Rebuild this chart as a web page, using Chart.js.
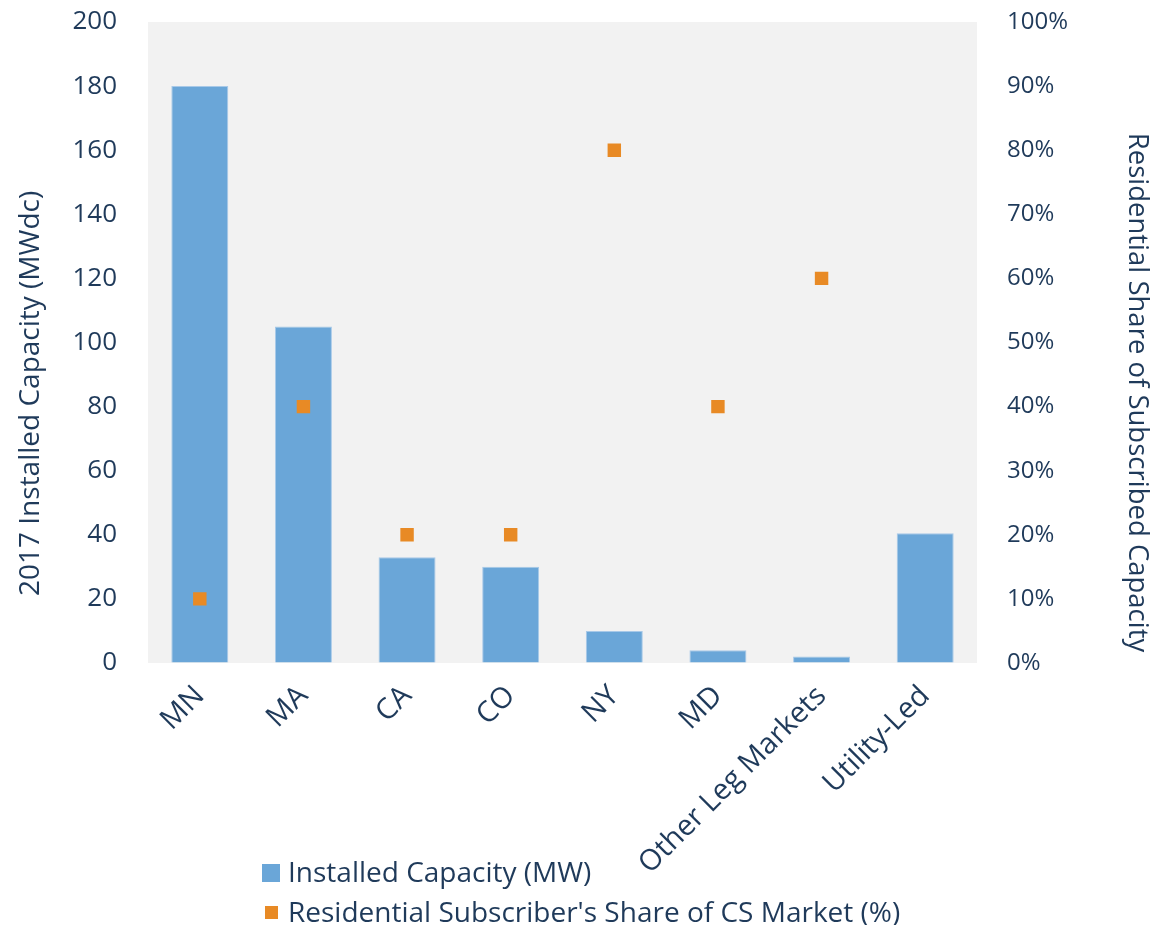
<!DOCTYPE html>
<html>
<head>
<meta charset="utf-8">
<script src="https://cdn.jsdelivr.net/npm/chart.js@4"></script>
<style>
  body { margin: 0; background: #fff; font-family: "Open Sans", sans-serif; }
  #wrap { position: relative; width: 1155px; height: 925px; }
  #legend { position: absolute; left: 262px; top: 851px; color: #1f3a5a; font-size: 28px; line-height: 40px; }
  #legend .sw { display: inline-block; vertical-align: middle; margin-right: 8px; position: relative; top: -2px; }
</style>
</head>
<body>
<div id="wrap">
  <canvas id="chart" width="1155" height="925"></canvas>
  <div id="legend">
    <div><span class="sw" style="width:18px;height:18px;background:#6aa6d8;"></span>Installed Capacity (MW)</div>
    <div><span class="sw" style="width:13px;height:13px;background:#e88a25;margin-left:3px;margin-right:10px;"></span>Residential Subscriber's Share of CS Market (%)</div>
  </div>
</div>
<script>
// categories and series
var markets = ['MN', 'MA', 'CA', 'CO', 'NY', 'MD', 'Other Leg Markets', 'Utility-Led'];
var capacityMW = [180, 105, 33, 30, 10, 4, 2, 40.5];
var residentialShare = [10, 40, 20, 20, 80, 40, 60, null];

var textColor = '#1f3a5a';

// grey plot area background
var plotBg = {
    id: 'plotBg',
    beforeDraw: function(chart) {
        var a = chart.chartArea;
        var ctx = chart.ctx;
        ctx.save();
        ctx.fillStyle = '#f2f2f2';
        ctx.fillRect(a.left, a.top, a.right - a.left, a.bottom - a.top);
        ctx.restore();
    }
};

var ctx = document.getElementById('chart').getContext('2d');
var chart = new Chart(ctx, {
    type: 'bar',
    data: {
        labels: markets,
        datasets: [{
            type: 'scatter',
            label: "Residential Subscriber's Share of CS Market (%)",
            data: residentialShare,
            yAxisID: 'y2',
            backgroundColor: '#e88a25',
            borderWidth: 0,
            pointStyle: 'rect',
            pointRadius: 9.5,
            pointHoverRadius: 9.5,
            showLine: false
        }, {
            label: 'Installed Capacity (MW)',
            data: capacityMW,
            yAxisID: 'y',
            backgroundColor: '#6aa6d8',
            borderColor: '#a8c9e8',
            borderWidth: 1,
            barPercentage: 0.55,
            categoryPercentage: 1
        }]
    },
    options: {
        responsive: false,
        animation: false,
        layout: { padding: { top: 22, bottom: 0, left: 0, right: 0 } },
        plugins: {
            legend: { display: false },
            tooltip: { enabled: false }
        },
        scales: {
            x: {
                type: 'category',
                grid: { display: false },
                border: { display: false },
                ticks: {
                    color: textColor,
                    font: { family: 'Open Sans', size: 29 },
                    minRotation: 45,
                    maxRotation: 45,
                    padding: 8
                },
                afterFit: function(s) { s.height = 262; }
            },
            y: {
                position: 'left',
                min: 0,
                max: 200,
                // invisible tick marks keep the labels away from the plot
                grid: { display: true, drawOnChartArea: false, color: 'rgba(0,0,0,0)', drawTicks: true, tickLength: 27 },
                border: { display: false },
                ticks: {
                    stepSize: 20,
                    color: textColor,
                    font: { family: 'Open Sans', size: 26 },
                    padding: 4
                },
                title: {
                    display: true,
                    text: '2017 Installed Capacity (MWdc)              ',
                    color: textColor,
                    font: { family: 'Open Sans', size: 28 },
                    padding: { top: 14, bottom: 0 }
                },
                afterFit: function(s) { s.width = 148; }
            },
            y2: {
                position: 'right',
                min: 0,
                max: 100,
                grid: { display: true, drawOnChartArea: false, color: 'rgba(0,0,0,0)', drawTicks: true, tickLength: 26 },
                border: { display: false },
                ticks: {
                    stepSize: 10,
                    color: textColor,
                    font: { family: 'Open Sans', size: 24 },
                    padding: 4,
                    callback: function(v) { return v + '%'; }
                },
                title: {
                    display: true,
                    text: '              Residential Share of Subscribed Capacity',
                    color: textColor,
                    font: { family: 'Open Sans', size: 27.5 },
                    padding: { top: 2, bottom: 0 }
                },
                afterFit: function(s) { s.width = 178; }
            }
        }
    },
    plugins: [plotBg]
});
</script>
</body>
</html>
